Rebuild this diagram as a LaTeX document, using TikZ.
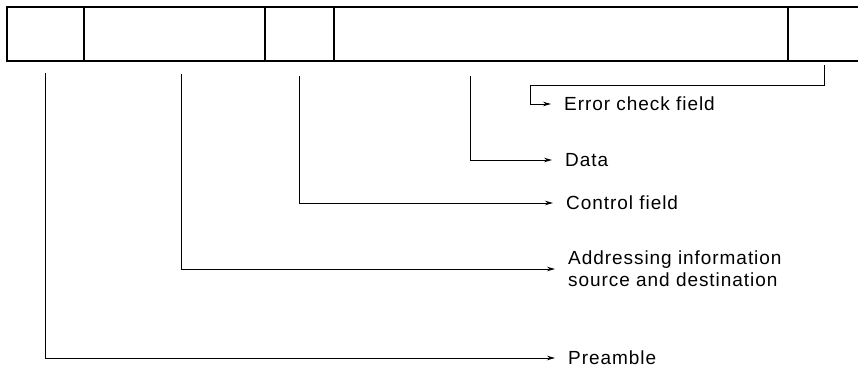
\documentclass[tikz,border=0pt]{standalone}
\usepackage{fontspec}
\setmainfont{Liberation Sans}
\usetikzlibrary{arrows.meta,positioning}

\tikzset{
  field/.style={draw, line width=1.1pt, minimum height=54pt, inner sep=0pt, outer sep=0pt, anchor=north west},
  lead/.style={line width=0.9pt, shorten >=13pt, -{Stealth[length=8pt,width=4.5pt]}},
  tag/.style={anchor=west, inner sep=0pt, font=\fontsize{19}{22}\selectfont\addfontfeatures{LetterSpace=5}, align=left},
}

\begin{document}
\begin{tikzpicture}[x=1pt, y=-1pt]
  \useasboundingbox (0,0) rectangle (858,369);
  % frame fields
  \node[field, minimum width=77pt] (pre) at (7,7) {};
  \node[field, minimum width=181pt] (adr) at (pre.north east) {};
  \node[field, minimum width=69pt] (ctl) at (adr.north east) {};
  \node[field, minimum width=454pt] (dat) at (ctl.north east) {};
  \node[field, minimum width=90pt] (fcs) at (dat.north east) {};
  % labels
  \node[tag] (fcstext) at (564,104) {Error check field};
  \node[tag] (dattext) at (565,160) {Data};
  \node[tag] (ctltext) at (566,203) {Control field};
  \node[tag] (adrtext) at (568,269) {Addressing information\\source and destination};
  \node[tag] (pretext) at (568,358) {Preamble};
  % leaders
  \coordinate (bend) at (530,85);
  \draw[lead] ([xshift=-9pt,yshift=-4pt]fcs.south) |- (bend) |- (fcstext.west);
  \draw[lead] ([xshift=-91pt,yshift=-15pt]dat.south) |- (dattext.west);
  \draw[lead] ([yshift=-15pt]ctl.south) |- (ctltext.west);
  \draw[lead] ([xshift=7pt,yshift=-13pt]adr.south) |- (adrtext.west);
  \draw[lead] ([yshift=-12pt]pre.south) |- (pretext.west);
\end{tikzpicture}
\end{document}
